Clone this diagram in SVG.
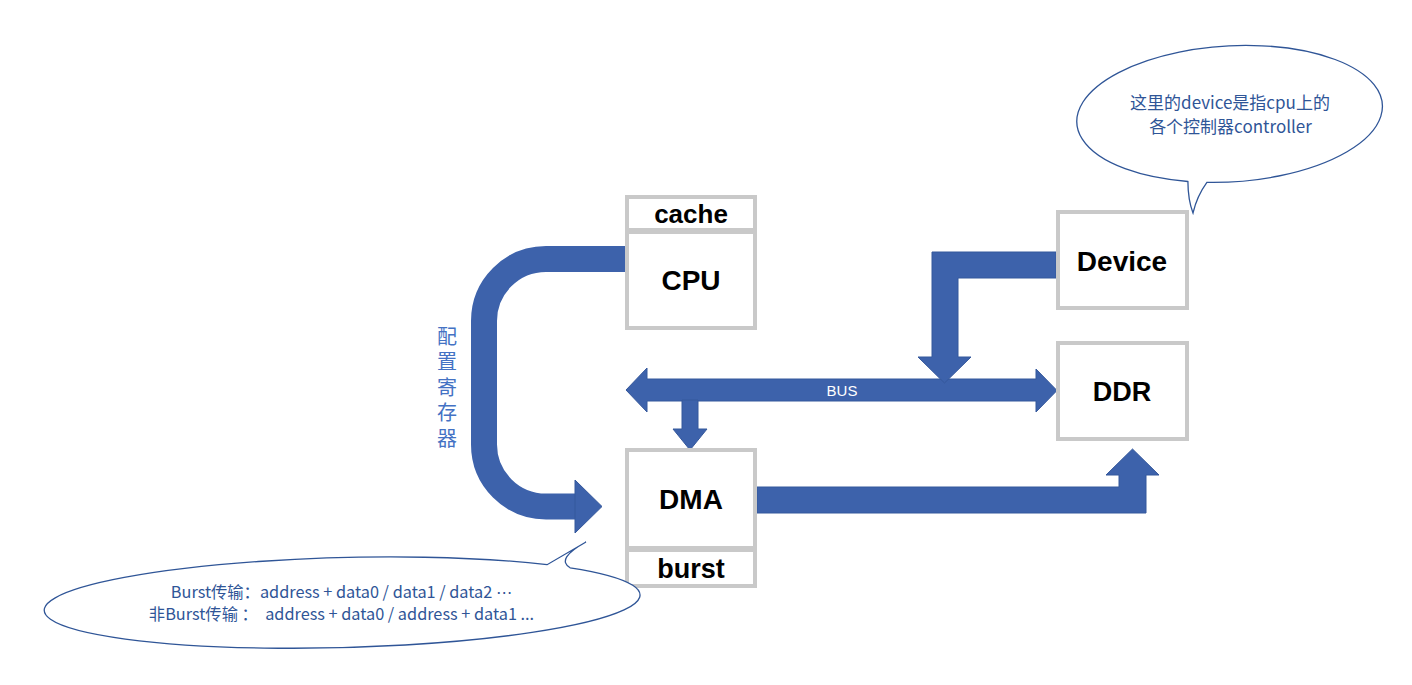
<svg xmlns="http://www.w3.org/2000/svg" width="1412" height="685" viewBox="0 0 1412 685">
<style>
.box{fill:#ffffff;stroke:#c9c9c9;stroke-width:4}
.lbl{font-family:"Liberation Sans",Arial,sans-serif;font-weight:bold;fill:#000000;text-anchor:middle}
.arrow{fill:#3d62ab;stroke:#35589c;stroke-width:1}
.band{fill:none;stroke:#3d62ab;stroke-width:26}
.callout{fill:#ffffff;stroke:#2f5597;stroke-width:1.3}
.ctext{font-family:"Noto Sans CJK SC","Noto Sans",sans-serif;fill:#2f5597;text-anchor:middle}
.vtext{font-family:"Noto Sans CJK SC",sans-serif;fill:#4472c4;font-size:20px;writing-mode:vertical-rl;letter-spacing:5.5px}
</style>
<rect width="1412" height="685" fill="#ffffff"/>
<g id="connectors">
  <path class="band" d="M625,259 H546 A62,62 0 0 0 484,321 V444.5 A62,62 0 0 0 546,506.5 H576"/>
  <polygon class="arrow" points="575,480 602,506.5 575,533"/>
  <polygon class="arrow" points="626,390 647,368 647,379 1036,379 1036,369 1057,390.5 1036,412 1036,401 647,401 647,412"/>
  <polygon class="arrow" points="682,400 698,400 698,429 707,429 690,450 673,429 682,429"/>
  <polygon class="arrow" points="1056,252 1056,278 958,278 958,357 971,357 944.5,383 918,357 932,357 932,252"/>
  <polygon class="arrow" points="757,487 1119,487 1119,475 1106,475 1132.5,449 1159,475 1146,475 1146,513 757,513"/>
  <text x="842" y="396" font-family="Liberation Sans,Arial,sans-serif" font-size="15" fill="#ffffff" text-anchor="middle">BUS</text>
  <text class="vtext" x="447" y="326">配置寄存器</text>
</g>
<g id="cache">
  <rect class="box" x="627" y="197" width="128" height="33"/>
  <text class="lbl" x="691" y="223" font-size="26">cache</text>
</g>
<g id="cpu">
  <rect class="box" x="627" y="232" width="128" height="96"/>
  <text class="lbl" x="691" y="290" font-size="28">CPU</text>
</g>
<g id="dma">
  <rect class="box" x="627" y="450" width="128" height="98"/>
  <text class="lbl" x="691" y="509" font-size="28">DMA</text>
</g>
<g id="burst">
  <rect class="box" x="627" y="550" width="128" height="36"/>
  <text class="lbl" x="691" y="578" font-size="27">burst</text>
</g>
<g id="device">
  <rect class="box" x="1058" y="212" width="129" height="96"/>
  <text class="lbl" x="1122" y="271" font-size="28">Device</text>
</g>
<g id="ddr">
  <rect class="box" x="1058" y="343" width="129" height="96"/>
  <text class="lbl" x="1122" y="401" font-size="27">DDR</text>
</g>
<g id="callout-device">
  <path class="callout" d="M1206.9,182.4 A153,68 -3.5 1 0 1187.9,181.5 Q1188,200 1193,213 Q1197,196 1206.9,182.4 Z"/>
  <text class="ctext" x="1230" y="109" font-size="17">这里的device是指cpu上的</text>
  <text class="ctext" x="1230.5" y="133" font-size="17">各个控制器controller</text>
</g>
<g id="callout-burst">
  <path class="callout" d="M570.1,567.8 A298,45 -1.5 1 1 547.1,564.7 L586,542 Q555.4,558.9 570.1,567.8 Z"/>
  <text class="ctext" x="341.5" y="598" font-size="16.3">Burst传输：address + data0 / data1 / data2 <tspan font-family="DejaVu Sans,sans-serif">⋯</tspan></text>
  <text class="ctext" x="341.5" y="620" font-size="16.3" xml:space="preserve">非Burst传输 ：  address + data0 / address + data1 ...</text>
</g>
</svg>
